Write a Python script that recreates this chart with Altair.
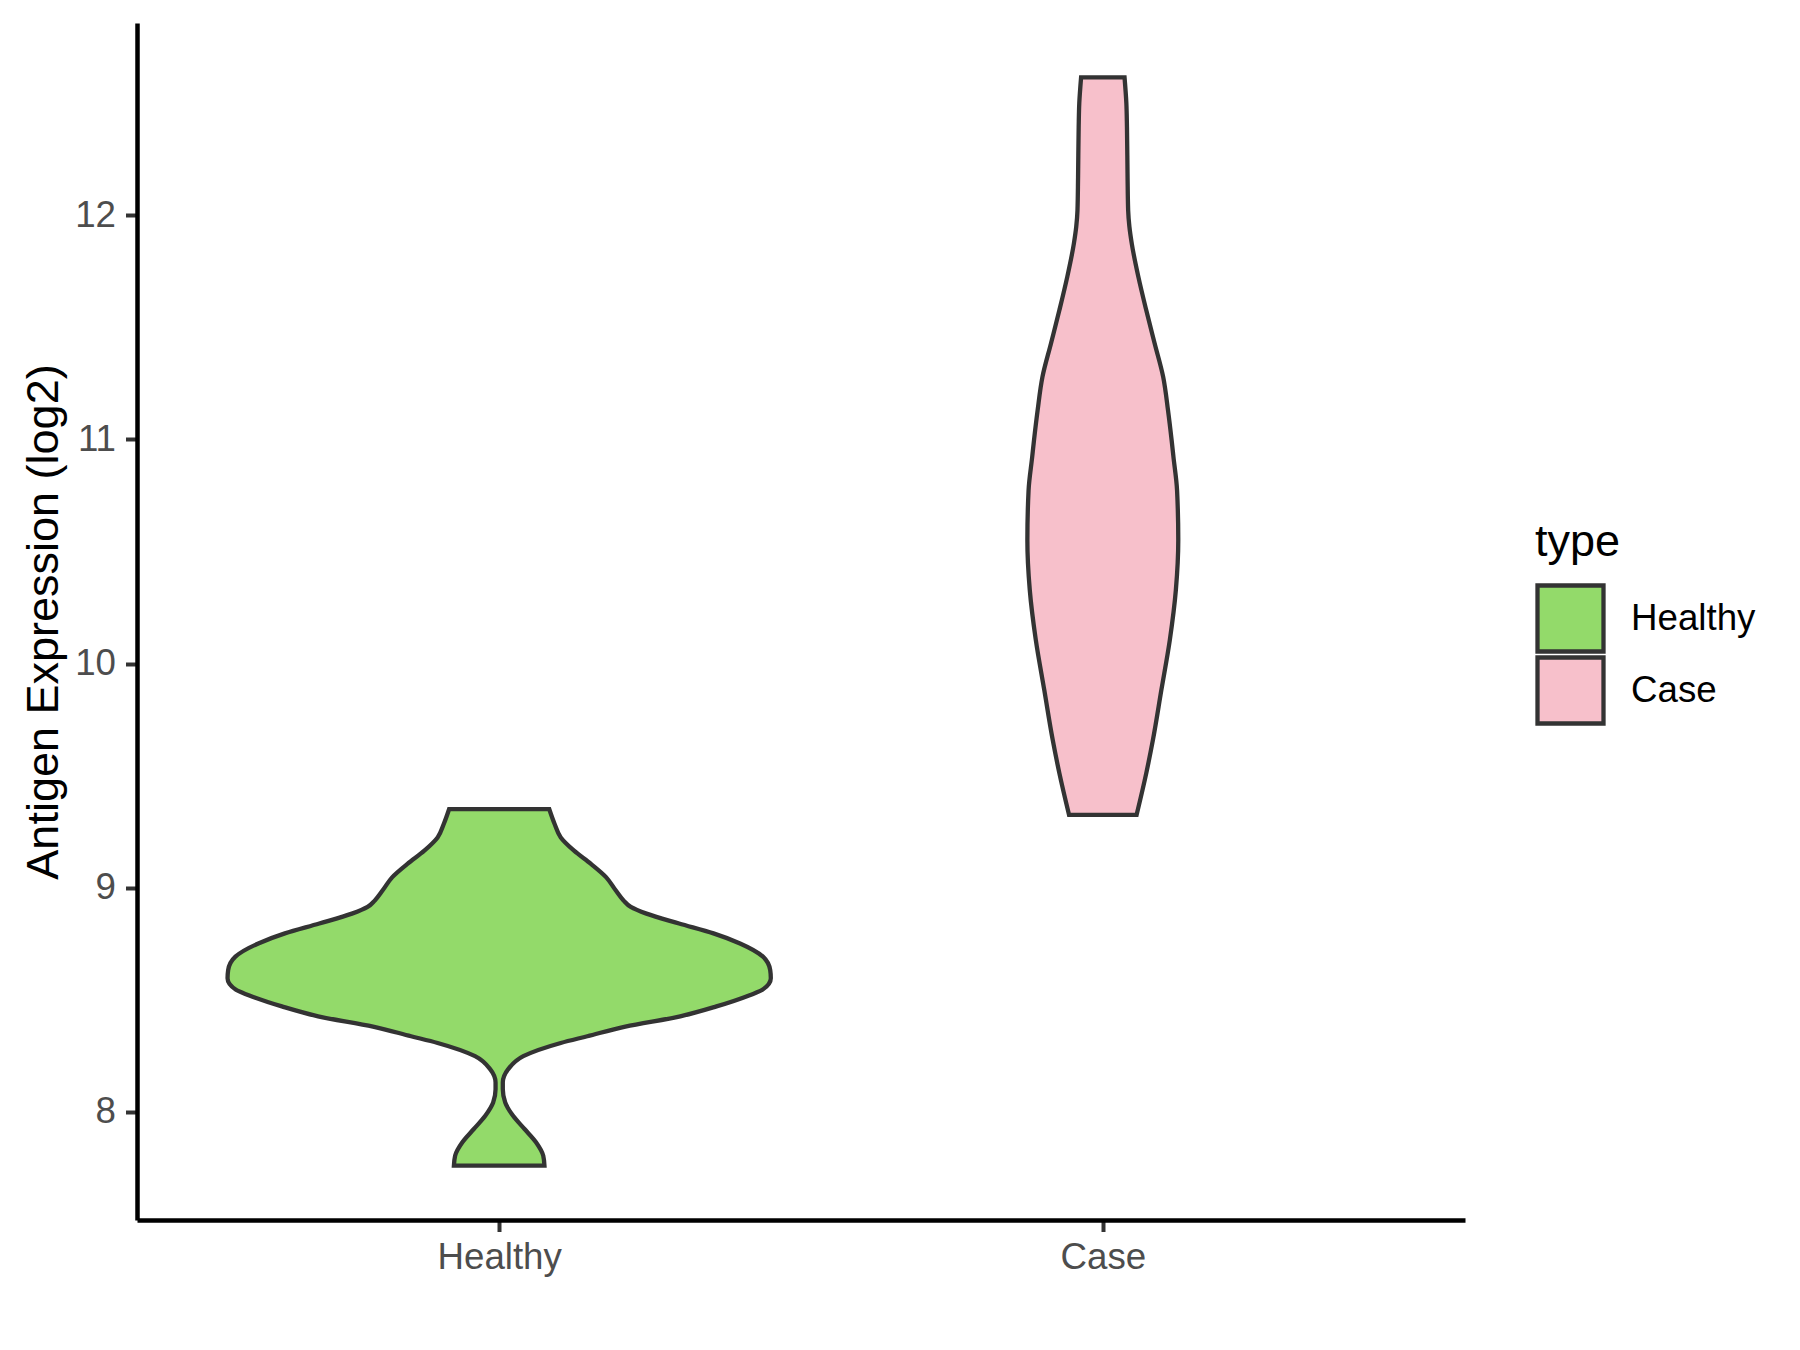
import altair as alt
import pandas as pd

# Categories and positions on the x axis
groups = ["Healthy", "Case"]
group_pos = [1, 2]
fill_colors = ["#93DA6A", "#F7C0CB"]

# Violin outline: expression value and half-width (x units)
healthy_y = [7.760, 7.804, 7.864, 7.923, 7.982, 8.041, 8.100, 8.130, 8.190, 8.248,
             8.307, 8.337, 8.380, 8.426, 8.470, 8.520, 8.544, 8.596, 8.632, 8.692,
             8.751, 8.796, 8.840, 8.884, 8.914, 8.943, 8.988, 9.047, 9.106, 9.165,
             9.224, 9.283, 9.350]
healthy_hw = [0.075, 0.073, 0.061, 0.042, 0.023, 0.010, 0.006, 0.006, 0.015, 0.040,
              0.102, 0.146, 0.209, 0.300, 0.360, 0.415, 0.436, 0.450, 0.449, 0.437,
              0.399, 0.355, 0.298, 0.244, 0.218, 0.206, 0.193, 0.177, 0.152, 0.124,
              0.102, 0.092, 0.083]

case_y = [9.325, 9.511, 9.659, 9.882, 10.105, 10.328, 10.551, 10.773, 10.922, 10.996,
          11.130, 11.279, 11.427, 11.576, 11.724, 11.873, 11.950, 12.021, 12.170, 12.393,
          12.500, 12.615]
case_hw = [0.056, 0.072, 0.083, 0.097, 0.111, 0.121, 0.125, 0.123, 0.117, 0.114,
           0.108, 0.100, 0.086, 0.072, 0.059, 0.048, 0.044, 0.042, 0.041, 0.040,
           0.039, 0.036]

y_ticks = [8, 9, 10, 11, 12]

rows = []
for g, pos, ys, hws in zip(groups, group_pos, [healthy_y, case_y], [healthy_hw, case_hw]):
    for y, hw in zip(ys, hws):
        rows.append({"type": g, "center": pos, "value": y, "hw": hw})
df = pd.DataFrame(rows)

FONT = "Liberation Sans"

chart = (
    alt.Chart(df)
    .transform_calculate(left="datum.center - datum.hw", right="datum.center + datum.hw")
    .mark_area(orient="horizontal", stroke="#333333", strokeWidth=4.3, opacity=1,
               interpolate="monotone")
    .encode(
        y=alt.Y("value:Q",
                scale=alt.Scale(domain=[7.517, 12.858], nice=False, zero=False),
                axis=alt.Axis(values=y_ticks, title="Antigen Expression (log2)",
                              grid=False, domainColor="black", domainWidth=4.5,
                              tickColor="#333333", tickWidth=4, tickSize=11.5,
                              labelFont=FONT, labelFontSize=36.7, labelColor="#4D4D4D",
                              labelPadding=10,
                              titleFont=FONT, titleFontSize=45, titleFontWeight="normal",
                              titleColor="black", titleAngle=270, titleX=-80, titleY=598.5,
                              titleAlign="center", titleBaseline="alphabetic")),
        x=alt.X("left:Q",
                scale=alt.Scale(domain=[0.4, 2.6], nice=False, zero=False),
                axis=alt.Axis(values=group_pos, title=None,
                              labelExpr="datum.value == 1 ? 'Healthy' : 'Case'",
                              grid=False, domainColor="black", domainWidth=4.5,
                              tickColor="#333333", tickWidth=4, tickSize=11.5,
                              labelFont=FONT, labelFontSize=36.7, labelColor="#4D4D4D",
                              labelPadding=8)),
        x2="right:Q",
        color=alt.Color("type:N",
                        scale=alt.Scale(domain=groups, range=fill_colors),
                        legend=alt.Legend(title="type", orient="none",
                                          legendX=1398, legendY=496.5, padding=0,
                                          titleFont=FONT, titleFontSize=45,
                                          titleFontWeight="normal", titleColor="black",
                                          titlePadding=18,
                                          labelFont=FONT, labelFontSize=36.7,
                                          labelColor="black", labelOffset=25,
                                          symbolType="square", symbolSize=4356,
                                          symbolStrokeColor="#333333",
                                          symbolStrokeWidth=4.3, symbolOpacity=1,
                                          clipHeight=72, rowPadding=0)),
        detail="type:N",
    )
    .properties(width=1328, height=1197,
                autosize=alt.AutoSizeParams(type="none"),
                padding={"left": 129, "top": 15, "right": 327, "bottom": 122})
    .configure_view(strokeWidth=0)
)

chart.save("out.html", embed_options={"renderer": "svg", "actions": False})
